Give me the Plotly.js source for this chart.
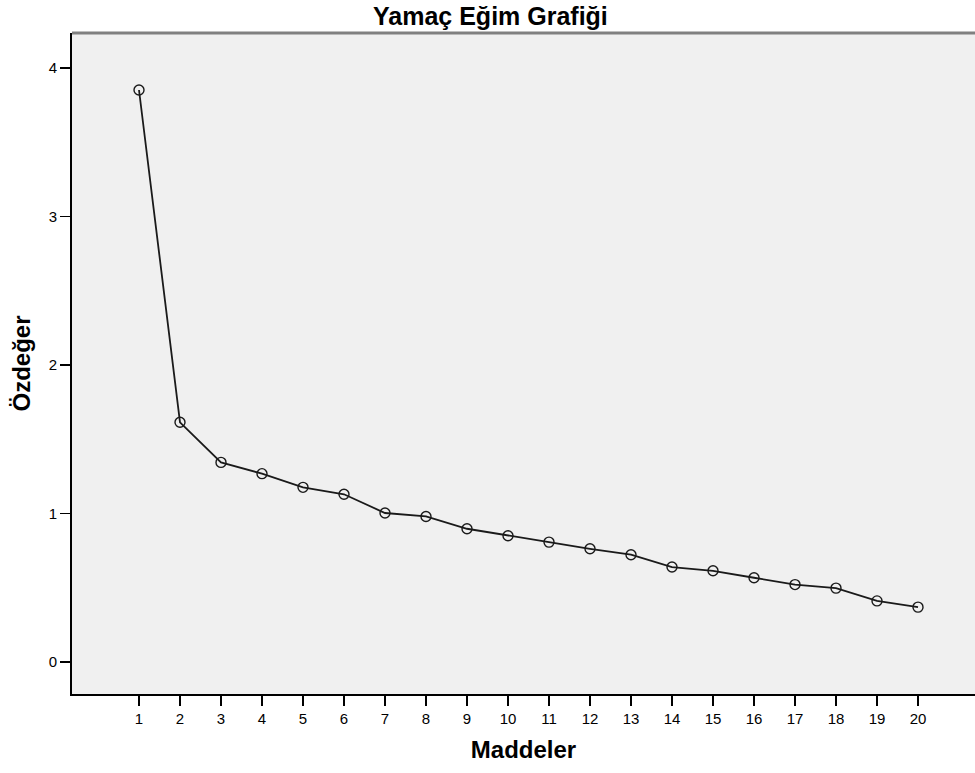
<!DOCTYPE html>
<html>
<head>
<meta charset="utf-8">
<script src="https://cdn.plot.ly/plotly-3.0.1.min.js"></script>
<style>html,body{margin:0;padding:0;background:#fff;}#chart{width:975px;height:773px;}</style>
</head>
<body>
<div id="chart"></div>
<script>
const items = [1,2,3,4,5,6,7,8,9,10,11,12,13,14,15,16,17,18,19,20];
const eigenvalues = [3.852,1.614,1.344,1.268,1.176,1.129,1.003,0.980,0.897,0.850,0.807,0.762,0.722,0.639,0.614,0.567,0.521,0.497,0.411,0.369];
const yTicks = [0,1,2,3,4];
const titleText = "Yamaç Eğim Grafiği";
const xTitle = "Maddeler";
const yTitle = "Özdeğer";

const trace = {
  x: items, y: eigenvalues, type: 'scatter', mode: 'lines+markers',
  line: {color: '#1a1a1a', width: 1.8},
  marker: {symbol: 'circle-open', size: 10, color: '#1a1a1a', line: {width: 1.4, color: '#1a1a1a'}},
  hoverinfo: 'x+y', showlegend: false
};
const fontFam = 'Liberation Sans, Arial, sans-serif';
const layout = {
  width: 975, height: 773,
  margin: {l: 72, r: 0, t: 33, b: 79, pad: 0},
  paper_bgcolor: '#ffffff', plot_bgcolor: '#f0f0f0',
  title: {text: '<b>' + titleText + '</b>', x: 0.503, xanchor: 'center', xref: 'container', y: 1 - 16/773, yanchor: 'middle', yref: 'container', font: {family: fontFam, size: 25, color: '#000'}},
  xaxis: {
    range: [-0.634, 21.39], tickmode: 'array', tickvals: items, ticktext: items.map(String),
    showgrid: false, zeroline: false, showline: true, linecolor: '#000', linewidth: 2,
    ticks: 'outside', ticklen: 10, tickwidth: 1.5, tickcolor: '#000',
    tickfont: {family: fontFam, size: 15, color: '#000'},
    title: {text: '<b>' + xTitle + '</b>', font: {family: fontFam, size: 24, color: '#000'}, standoff: 15}
  },
  yaxis: {
    range: [-0.216, 4.236], tickmode: 'array', tickvals: yTicks, ticktext: yTicks.map(String),
    showgrid: false, zeroline: false, showline: true, linecolor: '#000', linewidth: 2,
    ticks: 'outside', ticklen: 10, tickwidth: 1.5, tickcolor: '#000',
    tickfont: {family: fontFam, size: 15, color: '#000'},
    title: {text: '<b>' + yTitle + '</b>', font: {family: fontFam, size: 24, color: '#000'}, standoff: 11}
  },
  shapes: [{type: 'line', xref: 'paper', yref: 'paper', x0: 0, x1: 1, y0: 1, y1: 1, line: {color: '#808080', width: 3}}]
};
Plotly.newPlot('chart', [trace], layout, {displayModeBar: false, staticPlot: true});
</script>
</body>
</html>
